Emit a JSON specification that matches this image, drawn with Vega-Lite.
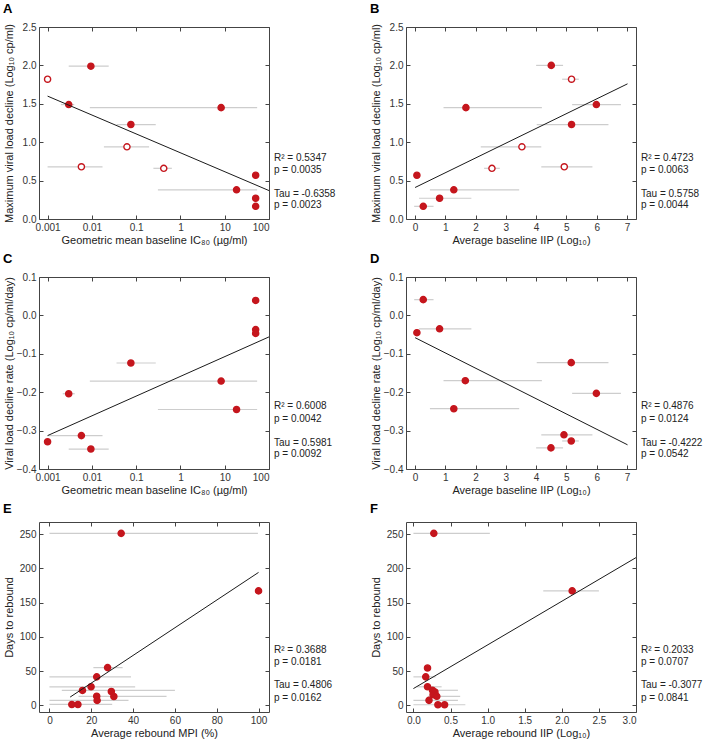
{
  "$schema": "https://vega.github.io/schema/vega-lite/v6.json",
  "padding": {"left": 2, "top": 2, "right": 0, "bottom": 0},
  "background": "white",
  "columns": 2,
  "spacing": {"row": 6, "column": 33},
  "datasets": {
    "pts": [
      {"panel": "A", "x": 0.001, "y": 1.82, "type": "open"},
      {"panel": "A", "x": 0.0095, "y": 1.99, "lo": 0.003, "hi": 0.024, "type": "closed"},
      {"panel": "A", "x": 0.003, "y": 1.49, "lo": 0.002, "hi": 0.004, "type": "closed"},
      {"panel": "A", "x": 8.3, "y": 1.45, "lo": 0.009, "hi": 54, "type": "closed"},
      {"panel": "A", "x": 0.076, "y": 1.23, "lo": 0.036, "hi": 0.277, "type": "closed"},
      {"panel": "A", "x": 0.062, "y": 0.94, "lo": 0.0187, "hi": 0.196, "type": "open"},
      {"panel": "A", "x": 0.0058, "y": 0.68, "lo": 0.001, "hi": 0.0174, "type": "open"},
      {"panel": "A", "x": 0.42, "y": 0.66, "lo": 0.245, "hi": 0.64, "type": "open"},
      {"panel": "A", "x": 50, "y": 0.57, "lo": 46, "hi": 54, "type": "closed"},
      {"panel": "A", "x": 18.5, "y": 0.38, "lo": 0.31, "hi": 54, "type": "closed"},
      {"panel": "A", "x": 50, "y": 0.27, "type": "closed"},
      {"panel": "A", "x": 50, "y": 0.165, "type": "closed"},
      {"panel": "B", "x": 4.5, "y": 2.0, "lo": 4.0, "hi": 4.89, "type": "closed"},
      {"panel": "B", "x": 5.17, "y": 1.82, "lo": 4.86, "hi": 5.41, "type": "open"},
      {"panel": "B", "x": 5.99, "y": 1.49, "lo": 5.19, "hi": 6.8, "type": "closed"},
      {"panel": "B", "x": 1.68, "y": 1.45, "lo": 0.94, "hi": 4.19, "type": "closed"},
      {"panel": "B", "x": 5.17, "y": 1.23, "lo": 4.02, "hi": 6.39, "type": "closed"},
      {"panel": "B", "x": 3.53, "y": 0.94, "lo": 2.17, "hi": 4.17, "type": "open"},
      {"panel": "B", "x": 2.54, "y": 0.66, "lo": 2.28, "hi": 2.8, "type": "open"},
      {"panel": "B", "x": 4.93, "y": 0.68, "lo": 4.17, "hi": 5.86, "type": "open"},
      {"panel": "B", "x": 0.06, "y": 0.57, "type": "closed"},
      {"panel": "B", "x": 1.28, "y": 0.38, "lo": 0.49, "hi": 3.44, "type": "closed"},
      {"panel": "B", "x": 0.81, "y": 0.27, "lo": 0.13, "hi": 1.86, "type": "closed"},
      {"panel": "B", "x": 0.27, "y": 0.165, "lo": -0.03, "hi": 0.61, "type": "closed"},
      {"panel": "C", "x": 50, "y": 0.039, "type": "closed"},
      {"panel": "C", "x": 50, "y": -0.037, "type": "closed"},
      {"panel": "C", "x": 50, "y": -0.047, "type": "closed"},
      {"panel": "C", "x": 0.076, "y": -0.124, "lo": 0.036, "hi": 0.277, "type": "closed"},
      {"panel": "C", "x": 8.3, "y": -0.171, "lo": 0.009, "hi": 54, "type": "closed"},
      {"panel": "C", "x": 0.003, "y": -0.204, "lo": 0.0022, "hi": 0.0041, "type": "closed"},
      {"panel": "C", "x": 18.5, "y": -0.245, "lo": 0.31, "hi": 54, "type": "closed"},
      {"panel": "C", "x": 0.0058, "y": -0.313, "lo": 0.001, "hi": 0.0174, "type": "closed"},
      {"panel": "C", "x": 0.001, "y": -0.329, "type": "closed"},
      {"panel": "C", "x": 0.0095, "y": -0.348, "lo": 0.003, "hi": 0.024, "type": "closed"},
      {"panel": "D", "x": 0.27, "y": 0.041, "lo": -0.03, "hi": 0.61, "type": "closed"},
      {"panel": "D", "x": 0.06, "y": -0.045, "type": "closed"},
      {"panel": "D", "x": 0.81, "y": -0.035, "lo": 0.13, "hi": 1.86, "type": "closed"},
      {"panel": "D", "x": 5.16, "y": -0.123, "lo": 4.02, "hi": 6.39, "type": "closed"},
      {"panel": "D", "x": 1.66, "y": -0.17, "lo": 0.94, "hi": 4.19, "type": "closed"},
      {"panel": "D", "x": 5.99, "y": -0.203, "lo": 5.19, "hi": 6.8, "type": "closed"},
      {"panel": "D", "x": 1.28, "y": -0.243, "lo": 0.49, "hi": 3.44, "type": "closed"},
      {"panel": "D", "x": 4.92, "y": -0.311, "lo": 4.17, "hi": 5.86, "type": "closed"},
      {"panel": "D", "x": 5.16, "y": -0.327, "lo": 4.86, "hi": 5.41, "type": "closed"},
      {"panel": "D", "x": 4.49, "y": -0.345, "lo": 4.0, "hi": 4.89, "type": "closed"},
      {"panel": "E", "x": 34.3, "y": 251, "lo": 0, "hi": 99.7, "type": "closed"},
      {"panel": "E", "x": 100, "y": 167, "type": "closed"},
      {"panel": "E", "x": 27.8, "y": 55, "lo": 21, "hi": 35, "type": "closed"},
      {"panel": "E", "x": 22.6, "y": 41.5, "lo": 0, "hi": 39, "type": "closed"},
      {"panel": "E", "x": 19.9, "y": 27, "lo": 0, "hi": 41, "type": "closed"},
      {"panel": "E", "x": 15.8, "y": 21.7, "lo": 5.9, "hi": 60, "type": "closed"},
      {"panel": "E", "x": 29.6, "y": 20.2, "type": "closed"},
      {"panel": "E", "x": 30.8, "y": 12.9, "lo": 13.9, "hi": 56, "type": "closed"},
      {"panel": "E", "x": 22.6, "y": 13.3, "type": "closed"},
      {"panel": "E", "x": 22.8, "y": 7.1, "lo": 0, "hi": 37.8, "type": "closed"},
      {"panel": "E", "x": 10.7, "y": 1.2, "lo": 0, "hi": 30, "type": "closed"},
      {"panel": "E", "x": 13.6, "y": 1.2, "type": "closed"},
      {"panel": "F", "x": 0.275, "y": 251, "lo": 0, "hi": 1.03, "type": "closed"},
      {"panel": "F", "x": 2.14, "y": 167, "lo": 1.75, "hi": 2.5, "type": "closed"},
      {"panel": "F", "x": 0.19, "y": 54.5, "type": "closed"},
      {"panel": "F", "x": 0.166, "y": 41.5, "lo": 0, "hi": 0.3, "type": "closed"},
      {"panel": "F", "x": 0.19, "y": 27, "lo": 0.05, "hi": 0.38, "type": "closed"},
      {"panel": "F", "x": 0.257, "y": 21.9, "lo": 0.22, "hi": 0.6, "type": "closed"},
      {"panel": "F", "x": 0.29, "y": 19.4, "type": "closed"},
      {"panel": "F", "x": 0.265, "y": 15.4, "type": "closed"},
      {"panel": "F", "x": 0.315, "y": 13.1, "lo": 0.2, "hi": 0.63, "type": "closed"},
      {"panel": "F", "x": 0.21, "y": 7.2, "lo": 0, "hi": 0.6, "type": "closed"},
      {"panel": "F", "x": 0.33, "y": 0.8, "lo": 0, "hi": 0.7, "type": "closed"},
      {"panel": "F", "x": 0.42, "y": 0.8, "type": "closed"}
    ],
    "fit": [
      {"panel": "A", "x1": 0.001, "y1": 1.6, "x2": 100, "y2": 0.37},
      {"panel": "B", "x1": 0, "y1": 0.41, "x2": 7.02, "y2": 1.76},
      {"panel": "C", "x1": 0.001, "y1": -0.313, "x2": 100, "y2": -0.056},
      {"panel": "D", "x1": 0, "y1": -0.058, "x2": 7.02, "y2": -0.337},
      {"panel": "E", "x1": 9.9, "y1": 12, "x2": 100, "y2": 194},
      {"panel": "F", "x1": 0, "y1": 24.4, "x2": 3.0, "y2": 215.6}
    ],
    "stats": [
      {"panel": "A", "label": "R² = 0.5347", "y": 0.8},
      {"panel": "A", "label": "p = 0.0035", "y": 0.634},
      {"panel": "A", "label": "Tau = -0.6358", "y": 0.33},
      {"panel": "A", "label": "p = 0.0023", "y": 0.178},
      {"panel": "B", "label": "R² = 0.4723", "y": 0.8},
      {"panel": "B", "label": "p = 0.0063", "y": 0.634},
      {"panel": "B", "label": "Tau = 0.5758", "y": 0.33},
      {"panel": "B", "label": "p = 0.0044", "y": 0.178},
      {"panel": "C", "label": "R² = 0.6008", "y": -0.235},
      {"panel": "C", "label": "p = 0.0042", "y": -0.27},
      {"panel": "C", "label": "Tau = 0.5981", "y": -0.331},
      {"panel": "C", "label": "p = 0.0092", "y": -0.361},
      {"panel": "D", "label": "R² = 0.4876", "y": -0.237},
      {"panel": "D", "label": "p = 0.0124", "y": -0.27},
      {"panel": "D", "label": "Tau = -0.4222", "y": -0.331},
      {"panel": "D", "label": "p = 0.0542", "y": -0.361},
      {"panel": "E", "label": "R² = 0.3688", "y": 81.3},
      {"panel": "E", "label": "p = 0.0181", "y": 62.8},
      {"panel": "E", "label": "Tau = 0.4806", "y": 29.2},
      {"panel": "E", "label": "p = 0.0162", "y": 10.7},
      {"panel": "F", "label": "R² = 0.2033", "y": 81.3},
      {"panel": "F", "label": "p = 0.0707", "y": 62.8},
      {"panel": "F", "label": "Tau = -0.3077", "y": 29.2},
      {"panel": "F", "label": "p = 0.0841", "y": 10.7}
    ]
  },
  "concat": [
    {
      "title": "A", "width": 230, "height": 192,
      "resolve": {"axis": {"x": "independent", "y": "independent"}},
      "encoding": {
        "x": {"field": "x", "type": "quantitative", "scale": {"type": "log", "domain": [0.00064, 100], "nice": false}, "axis": null},
        "y": {"field": "y", "type": "quantitative", "scale": {"domain": [0, 2.5], "nice": false, "zero": false}, "axis": null}
      },
      "layer": [
        {"data": {"name": "pts"}, "transform": [{"filter": "datum.panel === 'A' && isValid(datum.lo)"}],
         "mark": {"type": "rule", "color": "#cdcdcd", "strokeWidth": 1.2},
         "encoding": {
           "x": {"field": "lo", "type": "quantitative", "scale": {"type": "log", "domain": [0.00064, 100], "nice": false}, "axis": {"values": [0.001, 0.01, 0.1, 1, 10, 100], "format": "~g", "title": "Geometric mean baseline IC₈₀ (µg/ml)"}},
           "x2": {"field": "hi"},
           "y": {"field": "y", "type": "quantitative", "scale": {"domain": [0, 2.5], "nice": false, "zero": false}, "axis": {"values": [0, 0.5, 1, 1.5, 2, 2.5], "format": ".1f", "title": "Maximum viral load decline (Log₁₀ cp/ml)"}}
         }},
        {"data": {"name": "pts"}, "transform": [{"filter": "datum.panel === 'A'"}],
         "mark": {"type": "point", "shape": "circle", "filled": true, "size": 38, "strokeWidth": 1.4, "stroke": "#c5161d", "opacity": 1},
         "encoding": {"fill": {"field": "type", "type": "nominal", "scale": {"domain": ["closed", "open"], "range": ["#c5161d", "#ffffff"]}, "legend": null}}},
        {"data": {"name": "fit"}, "transform": [{"filter": "datum.panel === 'A'"}],
         "mark": {"type": "rule", "color": "#1a1a1a", "strokeWidth": 1},
         "encoding": {
           "x": {"field": "x1", "type": "quantitative", "scale": {"type": "log", "domain": [0.00064, 100], "nice": false}, "axis": {"orient": "top", "values": [0.001, 0.01, 0.1, 1, 10, 100], "labels": false, "title": null}},
           "x2": {"field": "x2"},
           "y": {"field": "y1", "type": "quantitative", "scale": {"domain": [0, 2.5], "nice": false, "zero": false}, "axis": {"orient": "right", "values": [0, 0.5, 1, 1.5, 2, 2.5], "labels": false, "title": null}},
           "y2": {"field": "y2"}
         }},
        {"data": {"name": "stats"}, "transform": [{"filter": "datum.panel === 'A'"}],
         "mark": {"type": "text", "align": "left", "baseline": "middle", "dx": 5, "fontSize": 10, "color": "#222222"},
         "encoding": {"x": {"value": "width"}, "text": {"field": "label"}}}
      ]
    },
    {
      "title": "B", "width": 230, "height": 192,
      "resolve": {"axis": {"x": "independent", "y": "independent"}},
      "encoding": {
        "x": {"field": "x", "type": "quantitative", "scale": {"domain": [-0.3, 7.3], "nice": false, "zero": false}, "axis": null},
        "y": {"field": "y", "type": "quantitative", "scale": {"domain": [0, 2.5], "nice": false, "zero": false}, "axis": null}
      },
      "layer": [
        {"data": {"name": "pts"}, "transform": [{"filter": "datum.panel === 'B' && isValid(datum.lo)"}],
         "mark": {"type": "rule", "color": "#cdcdcd", "strokeWidth": 1.2},
         "encoding": {
           "x": {"field": "lo", "type": "quantitative", "scale": {"domain": [-0.3, 7.3], "nice": false, "zero": false}, "axis": {"values": [0, 1, 2, 3, 4, 5, 6, 7], "format": "d", "title": "Average baseline IIP (Log₁₀)"}},
           "x2": {"field": "hi"},
           "y": {"field": "y", "type": "quantitative", "scale": {"domain": [0, 2.5], "nice": false, "zero": false}, "axis": {"values": [0, 0.5, 1, 1.5, 2, 2.5], "format": ".1f", "title": "Maximum viral load decline (Log₁₀ cp/ml)"}}
         }},
        {"data": {"name": "pts"}, "transform": [{"filter": "datum.panel === 'B'"}],
         "mark": {"type": "point", "shape": "circle", "filled": true, "size": 38, "strokeWidth": 1.4, "stroke": "#c5161d", "opacity": 1},
         "encoding": {"fill": {"field": "type", "type": "nominal", "scale": {"domain": ["closed", "open"], "range": ["#c5161d", "#ffffff"]}, "legend": null}}},
        {"data": {"name": "fit"}, "transform": [{"filter": "datum.panel === 'B'"}],
         "mark": {"type": "rule", "color": "#1a1a1a", "strokeWidth": 1},
         "encoding": {
           "x": {"field": "x1", "type": "quantitative", "scale": {"domain": [-0.3, 7.3], "nice": false, "zero": false}, "axis": {"orient": "top", "values": [0, 1, 2, 3, 4, 5, 6, 7], "labels": false, "title": null}},
           "x2": {"field": "x2"},
           "y": {"field": "y1", "type": "quantitative", "scale": {"domain": [0, 2.5], "nice": false, "zero": false}, "axis": {"orient": "right", "values": [0, 0.5, 1, 1.5, 2, 2.5], "labels": false, "title": null}},
           "y2": {"field": "y2"}
         }},
        {"data": {"name": "stats"}, "transform": [{"filter": "datum.panel === 'B'"}],
         "mark": {"type": "text", "align": "left", "baseline": "middle", "dx": 5, "fontSize": 10, "color": "#222222"},
         "encoding": {"x": {"value": "width"}, "text": {"field": "label"}}}
      ]
    },
    {
      "title": "C", "width": 230, "height": 192,
      "resolve": {"axis": {"x": "independent", "y": "independent"}},
      "encoding": {
        "x": {"field": "x", "type": "quantitative", "scale": {"type": "log", "domain": [0.00064, 100], "nice": false}, "axis": null},
        "y": {"field": "y", "type": "quantitative", "scale": {"domain": [-0.4, 0.1], "nice": false, "zero": false}, "axis": null}
      },
      "layer": [
        {"data": {"name": "pts"}, "transform": [{"filter": "datum.panel === 'C' && isValid(datum.lo)"}],
         "mark": {"type": "rule", "color": "#cdcdcd", "strokeWidth": 1.2},
         "encoding": {
           "x": {"field": "lo", "type": "quantitative", "scale": {"type": "log", "domain": [0.00064, 100], "nice": false}, "axis": {"values": [0.001, 0.01, 0.1, 1, 10, 100], "format": "~g", "title": "Geometric mean baseline IC₈₀ (µg/ml)"}},
           "x2": {"field": "hi"},
           "y": {"field": "y", "type": "quantitative", "scale": {"domain": [-0.4, 0.1], "nice": false, "zero": false}, "axis": {"values": [-0.4, -0.3, -0.2, -0.1, 0, 0.1], "format": ".1f", "title": "Viral load decline rate (Log₁₀ cp/ml/day)"}}
         }},
        {"data": {"name": "pts"}, "transform": [{"filter": "datum.panel === 'C'"}],
         "mark": {"type": "point", "shape": "circle", "filled": true, "size": 38, "strokeWidth": 1.4, "stroke": "#c5161d", "opacity": 1},
         "encoding": {"fill": {"field": "type", "type": "nominal", "scale": {"domain": ["closed", "open"], "range": ["#c5161d", "#ffffff"]}, "legend": null}}},
        {"data": {"name": "fit"}, "transform": [{"filter": "datum.panel === 'C'"}],
         "mark": {"type": "rule", "color": "#1a1a1a", "strokeWidth": 1},
         "encoding": {
           "x": {"field": "x1", "type": "quantitative", "scale": {"type": "log", "domain": [0.00064, 100], "nice": false}, "axis": {"orient": "top", "values": [0.001, 0.01, 0.1, 1, 10, 100], "labels": false, "title": null}},
           "x2": {"field": "x2"},
           "y": {"field": "y1", "type": "quantitative", "scale": {"domain": [-0.4, 0.1], "nice": false, "zero": false}, "axis": {"orient": "right", "values": [-0.4, -0.3, -0.2, -0.1, 0, 0.1], "labels": false, "title": null}},
           "y2": {"field": "y2"}
         }},
        {"data": {"name": "stats"}, "transform": [{"filter": "datum.panel === 'C'"}],
         "mark": {"type": "text", "align": "left", "baseline": "middle", "dx": 5, "fontSize": 10, "color": "#222222"},
         "encoding": {"x": {"value": "width"}, "text": {"field": "label"}}}
      ]
    },
    {
      "title": "D", "width": 230, "height": 192,
      "resolve": {"axis": {"x": "independent", "y": "independent"}},
      "encoding": {
        "x": {"field": "x", "type": "quantitative", "scale": {"domain": [-0.3, 7.3], "nice": false, "zero": false}, "axis": null},
        "y": {"field": "y", "type": "quantitative", "scale": {"domain": [-0.4, 0.1], "nice": false, "zero": false}, "axis": null}
      },
      "layer": [
        {"data": {"name": "pts"}, "transform": [{"filter": "datum.panel === 'D' && isValid(datum.lo)"}],
         "mark": {"type": "rule", "color": "#cdcdcd", "strokeWidth": 1.2},
         "encoding": {
           "x": {"field": "lo", "type": "quantitative", "scale": {"domain": [-0.3, 7.3], "nice": false, "zero": false}, "axis": {"values": [0, 1, 2, 3, 4, 5, 6, 7], "format": "d", "title": "Average baseline IIP (Log₁₀)"}},
           "x2": {"field": "hi"},
           "y": {"field": "y", "type": "quantitative", "scale": {"domain": [-0.4, 0.1], "nice": false, "zero": false}, "axis": {"values": [-0.4, -0.3, -0.2, -0.1, 0, 0.1], "format": ".1f", "title": "Viral load decline rate (Log₁₀ cp/ml/day)"}}
         }},
        {"data": {"name": "pts"}, "transform": [{"filter": "datum.panel === 'D'"}],
         "mark": {"type": "point", "shape": "circle", "filled": true, "size": 38, "strokeWidth": 1.4, "stroke": "#c5161d", "opacity": 1},
         "encoding": {"fill": {"field": "type", "type": "nominal", "scale": {"domain": ["closed", "open"], "range": ["#c5161d", "#ffffff"]}, "legend": null}}},
        {"data": {"name": "fit"}, "transform": [{"filter": "datum.panel === 'D'"}],
         "mark": {"type": "rule", "color": "#1a1a1a", "strokeWidth": 1},
         "encoding": {
           "x": {"field": "x1", "type": "quantitative", "scale": {"domain": [-0.3, 7.3], "nice": false, "zero": false}, "axis": {"orient": "top", "values": [0, 1, 2, 3, 4, 5, 6, 7], "labels": false, "title": null}},
           "x2": {"field": "x2"},
           "y": {"field": "y1", "type": "quantitative", "scale": {"domain": [-0.4, 0.1], "nice": false, "zero": false}, "axis": {"orient": "right", "values": [-0.4, -0.3, -0.2, -0.1, 0, 0.1], "labels": false, "title": null}},
           "y2": {"field": "y2"}
         }},
        {"data": {"name": "stats"}, "transform": [{"filter": "datum.panel === 'D'"}],
         "mark": {"type": "text", "align": "left", "baseline": "middle", "dx": 5, "fontSize": 10, "color": "#222222"},
         "encoding": {"x": {"value": "width"}, "text": {"field": "label"}}}
      ]
    },
    {
      "title": "E", "width": 230, "height": 190,
      "resolve": {"axis": {"x": "independent", "y": "independent"}},
      "encoding": {
        "x": {"field": "x", "type": "quantitative", "scale": {"domain": [-5, 105], "nice": false, "zero": false}, "axis": null},
        "y": {"field": "y", "type": "quantitative", "scale": {"domain": [-9.8, 267.6], "nice": false, "zero": false}, "axis": null}
      },
      "layer": [
        {"data": {"name": "pts"}, "transform": [{"filter": "datum.panel === 'E' && isValid(datum.lo)"}],
         "mark": {"type": "rule", "color": "#cdcdcd", "strokeWidth": 1.2},
         "encoding": {
           "x": {"field": "lo", "type": "quantitative", "scale": {"domain": [-5, 105], "nice": false, "zero": false}, "axis": {"values": [0, 20, 40, 60, 80, 100], "format": "d", "title": "Average rebound MPI (%)"}},
           "x2": {"field": "hi"},
           "y": {"field": "y", "type": "quantitative", "scale": {"domain": [-9.8, 267.6], "nice": false, "zero": false}, "axis": {"values": [0, 50, 100, 150, 200, 250], "format": "d", "title": "Days to rebound"}}
         }},
        {"data": {"name": "pts"}, "transform": [{"filter": "datum.panel === 'E'"}],
         "mark": {"type": "point", "shape": "circle", "filled": true, "size": 38, "strokeWidth": 1.4, "stroke": "#c5161d", "opacity": 1},
         "encoding": {"fill": {"field": "type", "type": "nominal", "scale": {"domain": ["closed", "open"], "range": ["#c5161d", "#ffffff"]}, "legend": null}}},
        {"data": {"name": "fit"}, "transform": [{"filter": "datum.panel === 'E'"}],
         "mark": {"type": "rule", "color": "#1a1a1a", "strokeWidth": 1},
         "encoding": {
           "x": {"field": "x1", "type": "quantitative", "scale": {"domain": [-5, 105], "nice": false, "zero": false}, "axis": {"orient": "top", "values": [0, 20, 40, 60, 80, 100], "labels": false, "title": null}},
           "x2": {"field": "x2"},
           "y": {"field": "y1", "type": "quantitative", "scale": {"domain": [-9.8, 267.6], "nice": false, "zero": false}, "axis": {"orient": "right", "values": [0, 50, 100, 150, 200, 250], "labels": false, "title": null}},
           "y2": {"field": "y2"}
         }},
        {"data": {"name": "stats"}, "transform": [{"filter": "datum.panel === 'E'"}],
         "mark": {"type": "text", "align": "left", "baseline": "middle", "dx": 5, "fontSize": 10, "color": "#222222"},
         "encoding": {"x": {"value": "width"}, "text": {"field": "label"}}}
      ]
    },
    {
      "title": "F", "width": 230, "height": 190,
      "resolve": {"axis": {"x": "independent", "y": "independent"}},
      "encoding": {
        "x": {"field": "x", "type": "quantitative", "scale": {"domain": [-0.1, 3.0], "nice": false, "zero": false}, "axis": null},
        "y": {"field": "y", "type": "quantitative", "scale": {"domain": [-9.8, 267.6], "nice": false, "zero": false}, "axis": null}
      },
      "layer": [
        {"data": {"name": "pts"}, "transform": [{"filter": "datum.panel === 'F' && isValid(datum.lo)"}],
         "mark": {"type": "rule", "color": "#cdcdcd", "strokeWidth": 1.2},
         "encoding": {
           "x": {"field": "lo", "type": "quantitative", "scale": {"domain": [-0.1, 3.0], "nice": false, "zero": false}, "axis": {"values": [0, 0.5, 1, 1.5, 2, 2.5, 3], "format": ".1f", "title": "Average rebound IIP (Log₁₀)"}},
           "x2": {"field": "hi"},
           "y": {"field": "y", "type": "quantitative", "scale": {"domain": [-9.8, 267.6], "nice": false, "zero": false}, "axis": {"values": [0, 50, 100, 150, 200, 250], "format": "d", "title": "Days to rebound"}}
         }},
        {"data": {"name": "pts"}, "transform": [{"filter": "datum.panel === 'F'"}],
         "mark": {"type": "point", "shape": "circle", "filled": true, "size": 38, "strokeWidth": 1.4, "stroke": "#c5161d", "opacity": 1},
         "encoding": {"fill": {"field": "type", "type": "nominal", "scale": {"domain": ["closed", "open"], "range": ["#c5161d", "#ffffff"]}, "legend": null}}},
        {"data": {"name": "fit"}, "transform": [{"filter": "datum.panel === 'F'"}],
         "mark": {"type": "rule", "color": "#1a1a1a", "strokeWidth": 1},
         "encoding": {
           "x": {"field": "x1", "type": "quantitative", "scale": {"domain": [-0.1, 3.0], "nice": false, "zero": false}, "axis": {"orient": "top", "values": [0, 0.5, 1, 1.5, 2, 2.5, 3], "labels": false, "title": null}},
           "x2": {"field": "x2"},
           "y": {"field": "y1", "type": "quantitative", "scale": {"domain": [-9.8, 267.6], "nice": false, "zero": false}, "axis": {"orient": "right", "values": [0, 50, 100, 150, 200, 250], "labels": false, "title": null}},
           "y2": {"field": "y2"}
         }},
        {"data": {"name": "stats"}, "transform": [{"filter": "datum.panel === 'F'"}],
         "mark": {"type": "text", "align": "left", "baseline": "middle", "dx": 5, "fontSize": 10, "color": "#222222"},
         "encoding": {"x": {"value": "width"}, "text": {"field": "label"}}}
      ]
    }
  ],
  "config": {
    "font": "Liberation Sans",
    "view": {"stroke": "#444444", "strokeWidth": 1},
    "title": {"anchor": "start", "fontSize": 13, "fontWeight": "bold", "offset": 6, "color": "#000000", "frame": "bounds"},
    "axis": {"domain": false, "grid": false, "tickSize": -4, "tickColor": "#444444", "labelPadding": 7, "labelFont": "Liberation Sans", "labelFontSize": 10, "labelColor": "#333333", "titleFont": "Liberation Sans", "titleFontSize": 11, "titleFontWeight": "normal", "titleColor": "#222222"},
    "axisY": {"minExtent": 22, "maxExtent": 22, "titlePadding": 3},
    "axisX": {"titlePadding": 2}
  }
}
